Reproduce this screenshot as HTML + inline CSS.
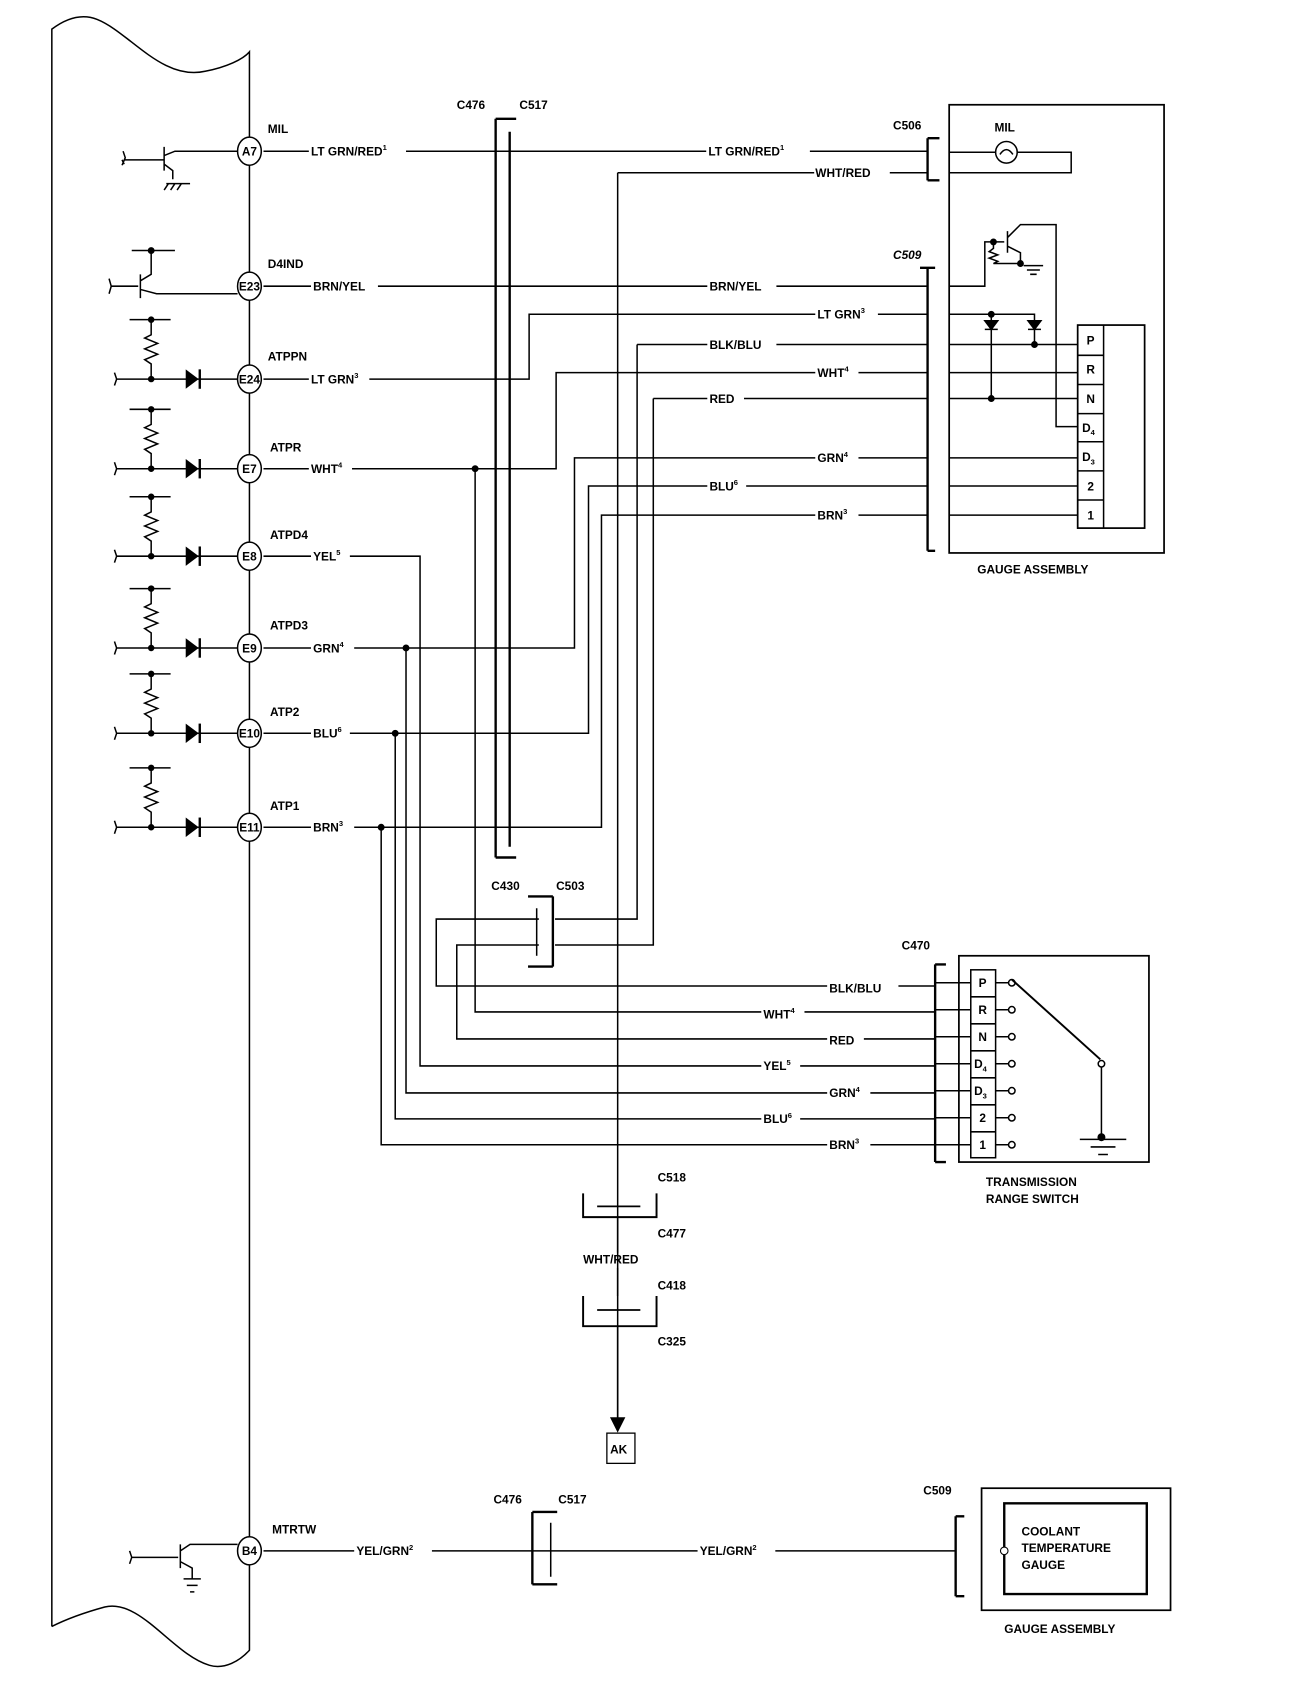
<!DOCTYPE html>
<html><head><meta charset="utf-8"><style>
html,body{margin:0;padding:0;background:#fff}
svg{display:block}
text{font-family:"Liberation Sans",sans-serif;font-weight:bold;font-size:11px;fill:#000}
.s{font-size:7px}
</style></head><body>
<svg width="1312" height="1688" viewBox="0 0 1215 1563" preserveAspectRatio="none" xmlns="http://www.w3.org/2000/svg">
<defs><g id="inp"><path d="M108,0 H220 M106,-6 L108,0 L106,6 M140,0 V-14 L134,-18 L146,-23 L134,-28 L146,-33 L134,-38 L140,-41 V-55 M120,-55 H158" fill="none" stroke="#000" stroke-width="1.4"/><circle cx="140" cy="0" r="3" fill="#000"/><circle cx="140" cy="-55" r="3" fill="#000"/><path d="M172,-9 L184,0 L172,9 Z" fill="#000"/><path d="M185,-9 V9" stroke="#000" stroke-width="2.2"/></g></defs>
<g fill="none" stroke="#000" stroke-width="1.4">
<!-- ECM outline -->
<path d="M48,1506 L48,27 C60,18 75,12 90,18 C120,30 150,75 190,66 C210,62 225,55 231,48 L231,1528 C222,1538 208,1546 194,1542 C160,1532 130,1480 97,1488 C75,1494 60,1500 48,1506"/>
<!-- A7 -->
<path d="M113,148 L115,152 M114,140 L116,146 L113,153 M115,148 H152 M152,136 V158 M152,144 L162,140 H220 M152,152 L160,158 V166 M154,170 H176 M156,170 L152,176 M162,170 L158,176 M168,170 L164,176"/>
<!-- E23 -->
<path d="M103,265 H128 M101,258 L103,265 L101,272 M130,254 V276 M130,260 L140,254 V232 M122,232 H162 M130,268 L145,272 H220"/>
<circle cx="140" cy="232" r="2.5" fill="#000"/>
<path d="M244,140 H859 M572,160 H859 M572,160 V1320"/>
<path d="M859,128 V167 M859,128 H870 M859,167 H870" stroke-width="2.2"/>
<rect x="879" y="97" width="199" height="415" stroke-width="1.6"/>
<circle cx="932" cy="141" r="10"/>
<path d="M879,141 H922 M942,141 H992 V160 H879 M926,143 Q932,134 938,143"/>
<path d="M459,110 V794 M459,110 H478 M459,794 H478 M472,122 V784" stroke-width="2.2"/>
<path d="M859,248 V510 M852,248 H866 M859,510 H866" stroke-width="2.2"/>
<path d="M244,265 H859 M879,265 H912 V224 H930 M933,214 V234 M933,220 L945,208 H978 V395 H998 M933,228 L945,234 V244 M920,224 V230 L916,233 L924,236 L916,239 L924,242 L920,244 H945 M948,246 H966 M951,250 H963 M954,254 H960"/>
<circle cx="920" cy="224" r="2.5" fill="#000"/><circle cx="945" cy="244" r="2.5" fill="#000"/>
<path d="M244,351 H490 V291 H859 M879,291 H958 V319 M918,291 V369"/>
<path d="M912,297 H924 L918,305 Z M912,305 H924 M952,297 H964 L958,305 Z M952,305 H964" fill="#000"/>
<circle cx="918" cy="291" r="2.5" fill="#000"/><circle cx="918" cy="369" r="2.5" fill="#000"/><circle cx="958" cy="319" r="2.5" fill="#000"/>
<path d="M590,319 H859 M590,319 V851 H514 M499,851 H404 V913 H866 M879,319 H998"/>
<path d="M244,434 H515 V345 H859 M879,345 H998 M440,434 V937 H866"/>
<circle cx="440" cy="434" r="2.5" fill="#000"/>
<path d="M605,369 H859 M605,369 V875 H514 M499,875 H423 V962 H866 M879,369 H998"/>
<path d="M244,600 H532 V424 H859 M879,424 H998 M376,600 V1012 H866"/>
<circle cx="376" cy="600" r="2.5" fill="#000"/>
<path d="M244,679 H545 V450 H859 M879,450 H998 M366,679 V1036 H866"/>
<circle cx="366" cy="679" r="2.5" fill="#000"/>
<path d="M244,766 H557 V477 H859 M879,477 H998 M353,766 V1060 H866"/>
<circle cx="353" cy="766" r="2.5" fill="#000"/>
<path d="M244,515 H389 V987 H866"/>
<rect x="998" y="301" width="62" height="188" stroke-width="1.6"/>
<path d="M1022,301 V489 M998,329 H1022 M998,356 H1022 M998,383 H1022 M998,409 H1022 M998,436 H1022 M998,463 H1022"/>
<path d="M512,830 V895 M489,830 H512 M489,895 H512" stroke-width="2.2"/>
<path d="M497,841 V885"/>
<path d="M866,893 V1076 M866,893 H876 M866,1076 H876" stroke-width="2.2"/>
<rect x="888" y="885" width="176" height="191" stroke-width="1.6"/>
<rect x="899" y="898" width="23" height="174"/>
<path d="M899,923 H922 M899,948 H922 M899,973 H922 M899,998 H922 M899,1023 H922 M899,1048 H922"/>
<path d="M866,910 H899 M866,935 H899 M866,960 H899 M866,985 H899 M866,1010 H899 M866,1035 H899 M866,1060 H899"/>
<path d="M922,910 H934 M922,935 H934 M922,960 H934 M922,985 H934 M922,1010 H934 M922,1035 H934 M922,1060 H934"/>
<circle cx="937" cy="910" r="3"/><circle cx="937" cy="935" r="3"/><circle cx="937" cy="960" r="3"/><circle cx="937" cy="985" r="3"/><circle cx="937" cy="1010" r="3"/><circle cx="937" cy="1035" r="3"/><circle cx="937" cy="1060" r="3"/>
<path d="M937,907 L1019,981" stroke-width="1.8"/>
<circle cx="1020" cy="985" r="3"/>
<path d="M1020,988 V1053 M1000,1055 H1043 M1010,1062 H1033 M1017,1069 H1026"/>
<circle cx="1020" cy="1053" r="3" fill="#000"/>
<path d="M540,1105 V1127 H608 V1105 M540,1200 V1228 H608 V1200" stroke-width="1.8"/>
<path d="M553,1117 H593 M553,1213 H593" stroke-width="1.6"/>
<path d="M572,1127 V1160 M572,1174 V1200 M572,1228 V1315"/>
<path d="M566,1313 H578 L572,1325 Z" fill="#000"/>
<rect x="562" y="1327" width="26" height="28" stroke-width="1.2"/>
<path d="M122,1442 H165 M120,1436 L122,1442 L120,1448 M167,1430 V1452 M167,1436 L176,1430 H220 M167,1446 L178,1452 V1462 M170,1462 H186 M173,1468 H183 M176,1474 H180"/>
<path d="M244,1436 H885"/>
<path d="M493,1400 V1467 M493,1400 H516 M493,1467 H516" stroke-width="2.2"/>
<path d="M510,1410 V1460"/>
<path d="M885,1404 V1478 M885,1404 H893 M885,1478 H893" stroke-width="2.2"/>
<rect x="909" y="1378" width="175" height="113" stroke-width="1.6"/>
<rect x="930" y="1392" width="132" height="84" stroke-width="2.2"/>
</g>
<circle cx="930" cy="1436" r="3.5" fill="#fff" stroke="#000"/>
<g fill="#fff" stroke="#000" stroke-width="1.4">
<ellipse cx="231" cy="140" rx="11" ry="13"/>
<ellipse cx="231" cy="265" rx="11" ry="13"/>
<ellipse cx="231" cy="351" rx="11" ry="13"/>
<ellipse cx="231" cy="434" rx="11" ry="13"/>
<ellipse cx="231" cy="515" rx="11" ry="13"/>
<ellipse cx="231" cy="600" rx="11" ry="13"/>
<ellipse cx="231" cy="679" rx="11" ry="13"/>
<ellipse cx="231" cy="766" rx="11" ry="13"/>
<ellipse cx="231" cy="1436" rx="11" ry="13"/>
</g>
<g style="font-size:9px" text-anchor="middle">
<text x="231" y="144">A7</text><text x="231" y="269">E23</text><text x="231" y="355">E24</text><text x="231" y="438">E7</text><text x="231" y="519">E8</text><text x="231" y="604">E9</text><text x="231" y="683">E10</text><text x="231" y="770">E11</text><text x="231" y="1440">B4</text>
</g>
<use href="#inp" transform="translate(0,351)"/>
<use href="#inp" transform="translate(0,434)"/>
<use href="#inp" transform="translate(0,515)"/>
<use href="#inp" transform="translate(0,600)"/>
<use href="#inp" transform="translate(0,679)"/>
<use href="#inp" transform="translate(0,766)"/>
<g>
<text x="248" y="123">MIL</text>
<text x="248" y="248">D4IND</text>
<text x="248" y="334">ATPPN</text>
<text x="250" y="418">ATPR</text>
<text x="250" y="499">ATPD4</text>
<text x="250" y="583">ATPD3</text>
<text x="250" y="663">ATP2</text>
<text x="250" y="750">ATP1</text>
<text x="252" y="1420">MTRTW</text>
<text x="423" y="101">C476</text><text x="481" y="101">C517</text>
<text x="827" y="120">C506</text>
<text x="921" y="122">MIL</text>
<text x="827" y="240" font-style="italic">C509</text>
<text x="905" y="531">GAUGE ASSEMBLY</text>
<text x="455" y="824">C430</text><text x="515" y="824">C503</text>
<text x="835" y="879">C470</text>
<text x="913" y="1098">TRANSMISSION</text>
<text x="913" y="1114">RANGE SWITCH</text>
<text x="609" y="1094">C518</text><text x="609" y="1146">C477</text>
<text x="540" y="1170">WHT/RED</text>
<text x="609" y="1194">C418</text><text x="609" y="1246">C325</text>
<text x="565" y="1346">AK</text>
<text x="457" y="1392">C476</text><text x="517" y="1392">C517</text>
<text x="855" y="1384">C509</text>
<text x="946" y="1422">COOLANT</text><text x="946" y="1437">TEMPERATURE</text><text x="946" y="1453">GAUGE</text>
<text x="930" y="1512">GAUGE ASSEMBLY</text>
</g>
<g>
<g fill="#fff">
<rect x="286" y="133" width="90" height="14"/><rect x="654" y="133" width="96" height="14"/>
<rect x="754" y="153" width="70" height="14"/>
<rect x="288" y="258" width="62" height="14"/><rect x="655" y="258" width="64" height="14"/>
<rect x="286" y="344" width="56" height="14"/><rect x="755" y="284" width="58" height="14"/>
<rect x="655" y="312" width="64" height="14"/><rect x="755" y="338" width="40" height="14"/>
<rect x="655" y="362" width="34" height="14"/><rect x="755" y="417" width="40" height="14"/>
<rect x="655" y="443" width="36" height="14"/><rect x="755" y="470" width="40" height="14"/>
<rect x="286" y="427" width="40" height="14"/><rect x="288" y="508" width="36" height="14"/>
<rect x="288" y="593" width="40" height="14"/><rect x="288" y="672" width="36" height="14"/>
<rect x="288" y="759" width="40" height="14"/>
<rect x="766" y="908" width="66" height="14"/><rect x="705" y="930" width="40" height="14"/>
<rect x="766" y="955" width="34" height="14"/><rect x="705" y="980" width="36" height="14"/>
<rect x="766" y="1005" width="40" height="14"/><rect x="705" y="1029" width="36" height="14"/>
<rect x="766" y="1053" width="40" height="14"/>
<rect x="328" y="1429" width="72" height="14"/><rect x="646" y="1429" width="72" height="14"/>
</g>
<text x="288" y="144">LT GRN/RED<tspan class="s" dy="-5">1</tspan></text>
<text x="656" y="144">LT GRN/RED<tspan class="s" dy="-5">1</tspan></text>
<text x="755" y="164">WHT/RED</text>
<text x="290" y="269">BRN/YEL</text><text x="657" y="269">BRN/YEL</text>
<text x="288" y="355">LT GRN<tspan class="s" dy="-5">3</tspan></text>
<text x="757" y="295">LT GRN<tspan class="s" dy="-5">3</tspan></text>
<text x="657" y="323">BLK/BLU</text>
<text x="757" y="349">WHT<tspan class="s" dy="-5">4</tspan></text>
<text x="657" y="373">RED</text>
<text x="757" y="428">GRN<tspan class="s" dy="-5">4</tspan></text>
<text x="657" y="454">BLU<tspan class="s" dy="-5">6</tspan></text>
<text x="757" y="481">BRN<tspan class="s" dy="-5">3</tspan></text>
<text x="288" y="438">WHT<tspan class="s" dy="-5">4</tspan></text>
<text x="290" y="519">YEL<tspan class="s" dy="-5">5</tspan></text>
<text x="290" y="604">GRN<tspan class="s" dy="-5">4</tspan></text>
<text x="290" y="683">BLU<tspan class="s" dy="-5">6</tspan></text>
<text x="290" y="770">BRN<tspan class="s" dy="-5">3</tspan></text>
<text x="768" y="919">BLK/BLU</text>
<text x="707" y="943">WHT<tspan class="s" dy="-5">4</tspan></text>
<text x="768" y="967">RED</text>
<text x="707" y="991">YEL<tspan class="s" dy="-5">5</tspan></text>
<text x="768" y="1016">GRN<tspan class="s" dy="-5">4</tspan></text>
<text x="707" y="1040">BLU<tspan class="s" dy="-5">6</tspan></text>
<text x="768" y="1064">BRN<tspan class="s" dy="-5">3</tspan></text>
<text x="330" y="1440">YEL/GRN<tspan class="s" dy="-5">2</tspan></text>
<text x="648" y="1440">YEL/GRN<tspan class="s" dy="-5">2</tspan></text>
</g>
<g text-anchor="middle">
<text x="1010" y="319">P</text><text x="1010" y="346">R</text><text x="1010" y="373">N</text><text x="1008" y="400">D<tspan class="s" dy="3">4</tspan></text><text x="1008" y="427">D<tspan class="s" dy="3">3</tspan></text><text x="1010" y="454">2</text><text x="1010" y="481">1</text>
<text x="910" y="914">P</text><text x="910" y="939">R</text><text x="910" y="964">N</text><text x="908" y="989">D<tspan class="s" dy="3">4</tspan></text><text x="908" y="1014">D<tspan class="s" dy="3">3</tspan></text><text x="910" y="1039">2</text><text x="910" y="1064">1</text>
</g>
</svg>
</body></html>
